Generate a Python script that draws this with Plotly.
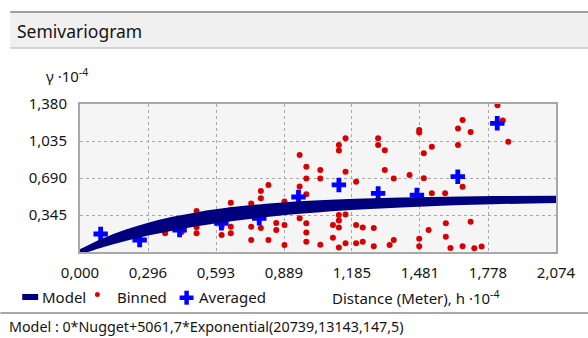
import plotly.graph_objects as go

# ---------------- data ----------------
binned_h = [0.371, 0.443, 0.508, 0.508, 0.508, 0.617, 0.617, 0.617,
            0.657, 0.657, 0.657, 0.657, 0.746, 0.746, 0.746,
            0.788, 0.788, 0.788, 0.821, 0.821, 0.855, 0.855,
            0.891, 0.891, 0.891, 0.957, 0.957, 0.957,
            0.986, 0.986, 0.986, 0.986, 0.986, 0.986,
            1.047, 1.047, 1.047, 1.102, 1.102,
            1.128, 1.128, 1.128, 1.128, 1.128, 1.128,
            1.157, 1.157, 1.157, 1.157, 1.203, 1.203, 1.203,
            1.232, 1.232, 1.280, 1.280, 1.299, 1.299, 1.328, 1.328,
            1.367, 1.349, 1.367, 1.436,
            1.478, 1.478, 1.478, 1.478, 1.498, 1.498, 1.519,
            1.533, 1.533, 1.591, 1.594, 1.594, 1.614,
            1.647, 1.647, 1.667, 1.667, 1.667, 1.702, 1.702, 1.718,
            1.750, 1.750, 1.819, 1.842, 1.866]
binned_g = [0.174, 0.186, 0.382, 0.230, 0.174, 0.364, 0.236, 0.159,
            0.460, 0.392, 0.236, 0.174, 0.452, 0.236, 0.112,
            0.569, 0.501, 0.224, 0.625, 0.112, 0.270, 0.205,
            0.471, 0.252, 0.065, 0.904, 0.611, 0.314,
            0.795, 0.685, 0.538, 0.268, 0.182, 0.096,
            0.765, 0.685, 0.068, 0.252, 0.133,
            0.998, 0.946, 0.345, 0.294, 0.228, 0.042,
            1.060, 0.749, 0.350, 0.081, 0.656, 0.252, 0.081,
            0.228, 0.096, 0.224, 0.053, 1.060, 0.998, 0.948, 0.765,
            0.685, 0.065, 0.112, 0.718,
            1.138, 1.114, 0.124, 0.053, 0.920, 0.687, 0.205,
            0.982, 0.547, 0.547, 0.268, 0.143, 0.037,
            1.152, 0.998, 1.231, 0.609, 0.053, 1.119, 0.283, 0.035,
            0.051, -0.012, 1.368, 1.226, 1.028]

avg_h = [0.090, 0.260, 0.434, 0.616, 0.781, 0.952, 1.128, 1.299, 1.468, 1.646, 1.818]
avg_g = [0.168, 0.112, 0.205, 0.268, 0.314, 0.513, 0.625, 0.547, 0.531, 0.702, 1.200]

# model band (directional exponential curves, minor / major range)
model_h = [0, 0.1, 0.2, 0.3, 0.4, 0.5, 0.6, 0.8, 1.0, 1.2, 1.4, 1.6, 1.8, 2.074]
model_lower = [0, 0.068, 0.127, 0.178, 0.222, 0.261, 0.294, 0.347, 0.387,
               0.417, 0.439, 0.456, 0.469, 0.481]
model_upper = [0, 0.103, 0.185, 0.251, 0.303, 0.344, 0.377, 0.425, 0.454,
               0.473, 0.485, 0.493, 0.498, 0.502]

x_tickvals = [0, 0.2963, 0.5926, 0.8889, 1.1851, 1.4814, 1.7777, 2.074]
x_ticktext = ["0,000", "0,296", "0,593", "0,889", "1,185", "1,481", "1,778", "2,074"]
y_tickvals = [0.345, 0.690, 1.035, 1.380]
y_ticktext = ["0,345", "0,690", "1,035", "1,380"]

title_text = "Semivariogram"
model_text = "Model : 0*Nugget+5061,7*Exponential(20739,13143,147,5)"

# ---------------- layout helpers ----------------
W, H = 588, 338
L, R, T, B = 80, 558, 104, 252
FONT = "Noto Sans"
TXT = "#141414"


def fx(px):
    return (px - L) / (R - L)


def fy(py):
    return (B - py) / (B - T)


fig = go.Figure()

fig.add_trace(go.Scatter(x=binned_h, y=binned_g, mode="markers", cliponaxis=False,
                         marker=dict(color="#d80000", size=6, symbol="circle"),
                         showlegend=False, hoverinfo="skip"))
fig.add_trace(go.Scatter(x=avg_h, y=avg_g, mode="markers", cliponaxis=False,
                         marker=dict(color="#0000ff", size=12, symbol="cross"),
                         showlegend=False, hoverinfo="skip"))
fig.add_trace(go.Scatter(x=model_h, y=model_lower, mode="lines",
                         line=dict(color="#00007f", width=5, shape="spline"),
                         showlegend=False, hoverinfo="skip"))
fig.add_trace(go.Scatter(x=model_h, y=model_upper, mode="lines", fill="tonexty",
                         fillcolor="#00007f",
                         line=dict(color="#00007f", width=5, shape="spline"),
                         showlegend=False, hoverinfo="skip"))

shapes = [
    # title bar
    dict(type="rect", xref="paper", yref="paper", x0=fx(10), x1=fx(600), y0=fy(48), y1=fy(12),
         fillcolor="#f0f0f0", line=dict(width=0), layer="below"),
    dict(type="line", xref="paper", yref="paper", x0=fx(10), x1=fx(600), y0=fy(12), y1=fy(12),
         line=dict(color="#a0a0a0", width=2)),
    dict(type="line", xref="paper", yref="paper", x0=fx(10), x1=fx(600), y0=fy(48), y1=fy(48),
         line=dict(color="#c8c8c8", width=1.5)),
    # separator above model text
    dict(type="line", xref="paper", yref="paper", x0=fx(0), x1=fx(600), y0=fy(313), y1=fy(313),
         line=dict(color="#a8a8a8", width=2)),
    # legend glyphs
    dict(type="line", xref="paper", yref="paper", x0=fx(22), x1=fx(38), y0=fy(297), y1=fy(297),
         line=dict(color="#00007f", width=6)),
    dict(type="circle", xref="paper", yref="paper", x0=fx(95), x1=fx(100), y0=fy(297), y1=fy(292),
         fillcolor="#d80000", line=dict(width=0)),
    dict(type="rect", xref="paper", yref="paper", x0=fx(180), x1=fx(194), y0=fy(300), y1=fy(295.5),
         fillcolor="#0000ff", line=dict(width=0)),
    dict(type="rect", xref="paper", yref="paper", x0=fx(184.8), x1=fx(189.3), y0=fy(304.7), y1=fy(290.7),
         fillcolor="#0000ff", line=dict(width=0)),
]


def ann(text, px, py, size, anchor="left"):
    return dict(text=text, xref="paper", yref="paper", x=fx(px), y=fy(py),
                xanchor=anchor, yanchor="middle", showarrow=False,
                font=dict(family=FONT, size=size, color=TXT), borderpad=0)


annotations = [
    ann(title_text, 16, 31, 17.5),
    ann("γ ·10<sup>-4</sup>", 45, 76, 15),
    ann("Model", 41, 297, 15),
    ann("Binned", 116, 297, 15),
    ann("Averaged", 198, 297, 15),
    ann("Distance (Meter), h ·10<sup>-4</sup>", 502, 297, 15, anchor="right"),
    ann(model_text, 8, 326, 14.3),
]

axis_font = dict(family=FONT, size=15, color=TXT)
fig.update_layout(
    width=W, height=H,
    margin=dict(l=L, r=W - R, t=T, b=H - B),
    paper_bgcolor="white", plot_bgcolor="#f5f5f5",
    shapes=shapes, annotations=annotations,
    showlegend=False, hovermode=False,
    xaxis=dict(range=[0, 2.074], tickvals=x_tickvals, ticktext=x_ticktext,
               showgrid=True, gridcolor="#a8a8a8", griddash="dot", gridwidth=1,
               showline=True, mirror=True, linecolor="#a8a8a8", linewidth=2,
               zeroline=False, ticks="", tickfont=axis_font, ticklabelstandoff=6,
               fixedrange=True),
    yaxis=dict(range=[0, 1.38], tickvals=y_tickvals, ticktext=y_ticktext,
               showgrid=True, gridcolor="#a8a8a8", griddash="dot", gridwidth=1,
               showline=True, mirror=True, linecolor="#a8a8a8", linewidth=2,
               zeroline=False, ticks="", tickfont=axis_font, ticklabelstandoff=8,
               fixedrange=True),
)

fig.write_html("out.html", config={"displayModeBar": False},
               post_script="document.body.style.margin='0';document.body.style.overflow='hidden';")
